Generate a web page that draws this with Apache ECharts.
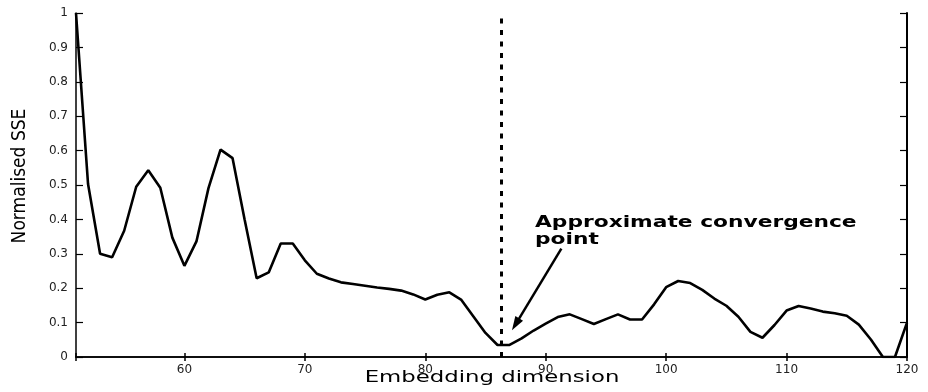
<!DOCTYPE html>
<html lang="en">
<head>
    <meta charset="UTF-8">
    <title>Normalised SSE vs embedding dimension</title>
    <style>
        html, body { margin: 0; padding: 0; background: #fff; }
    </style>
</head>
<body>
<div class="main" style="width: 928px;height:392px;"></div>
</body>
<script src="https://cdn.jsdelivr.net/npm/echarts@6.0.0/dist/echarts.min.js"></script>
<script>
    // embedding dimension 51..120
    var dims = [];
    for (var d = 51; d <= 120; d++) dims.push(d);

    // normalised SSE
    var sse = [
        1.0, 0.503, 0.300, 0.290, 0.367, 0.495, 0.543, 0.492, 0.347, 0.265,   // 51-60
        0.336, 0.491, 0.603, 0.578, 0.400, 0.229, 0.246, 0.330, 0.330, 0.281, // 61-70
        0.242, 0.228, 0.217, 0.212, 0.207, 0.202, 0.198, 0.193, 0.182, 0.167, // 71-80
        0.181, 0.188, 0.166, 0.118, 0.070, 0.035, 0.035, 0.054, 0.077, 0.097, // 81-90
        0.116, 0.124, 0.110, 0.096, 0.110, 0.124, 0.109, 0.109, 0.153, 0.203, // 91-100
        0.221, 0.215, 0.195, 0.170, 0.149, 0.117, 0.073, 0.056, 0.093, 0.135, // 101-110
        0.148, 0.141, 0.132, 0.127, 0.120, 0.094, 0.051, 0.0, 0.0, 0.100      // 111-120
    ];

    var xTicks = [60, 70, 80, 90, 100, 110, 120];
    var convergenceDim = 86.35;
    // arrow of the annotation: tail -> head, in data units
    var arrowFrom = [91.3, 0.315];
    var arrowTo = [87.5, 0.095];
    var noteText = 'Approximate convergence\npoint';

    var seriesData = dims.map(function (d, i) { return [d, sse[i]]; });

    var main = document.getElementsByClassName('main')[0];
    var myChart = echarts.init(main, null, {renderer: 'canvas'});

    var tickFont = {fontFamily: 'DejaVu Sans', fontSize: 12, color: '#222'};

    var option = {
        animation: false,
        grid: {left: 76, right: 21, top: 13, bottom: 35},
        xAxis: [{
            type: 'value',
            min: 51,
            max: 120,
            splitNumber: 7,
            axisLine: {lineStyle: {color: '#000', width: 1.5}},
            axisTick: {inside: true, length: 4, lineStyle: {color: '#000', width: 1.5}},
            axisLabel: Object.assign({
                margin: 7,
                formatter: function (v) { return xTicks.indexOf(v) >= 0 ? String(v) : ''; }
            }, tickFont),
            splitLine: {show: false}
        }, {
            type: 'value',
            position: 'top',
            min: 51,
            max: 120,
            splitNumber: 7,
            axisLine: {lineStyle: {color: '#000', width: 1.5}},
            axisTick: {inside: true, length: 4, lineStyle: {color: '#000', width: 1.5}},
            axisLabel: {show: false},
            splitLine: {show: false}
        }],
        yAxis: [{
            type: 'value',
            min: 0,
            max: 1,
            interval: 0.1,
            name: 'Normalised SSE',
            nameLocation: 'middle',
            nameGap: 46,
            nameTextStyle: {
                fontFamily: "'DejaVu Sans Condensed', sans-serif",
                fontSize: 19,
                color: '#000',
                padding: [0, 0, 0, 18]
            },
            axisLine: {lineStyle: {color: '#000', width: 1.5}},
            axisTick: {inside: true, length: 7, lineStyle: {color: '#000', width: 1.2}},
            axisLabel: Object.assign({margin: 8}, tickFont),
            splitLine: {show: false}
        }, {
            type: 'value',
            position: 'right',
            min: 0,
            max: 1,
            interval: 0.1,
            axisLine: {lineStyle: {color: '#000', width: 2}},
            axisTick: {inside: true, length: 7, lineStyle: {color: '#000', width: 1.2}},
            axisLabel: {show: false},
            splitLine: {show: false}
        }],
        series: [{
            type: 'line',
            data: seriesData,
            showSymbol: false,
            lineStyle: {color: '#000', width: 2.6},
            silent: true,
            markLine: {
                silent: true,
                symbol: 'none',
                label: {show: false},
                lineStyle: {color: '#000', width: 3, type: [5, 6.5]},
                data: [
                    {xAxis: convergenceDim},
                    // annotation arrow
                    [
                        {coord: arrowFrom, symbol: 'none',
                            lineStyle: {type: 'solid', width: 2.5, color: '#000'}},
                        {coord: arrowTo, symbol: 'triangle', symbolSize: [9, 14],
                            lineStyle: {type: 'solid', width: 2.5, color: '#000'}}
                    ]
                ]
            }
        }],
        graphic: [{
            type: 'text',
            x: 535,
            y: 215,
            scaleX: 1.45,
            style: {
                text: noteText,
                fontFamily: 'DejaVu Sans',
                fontWeight: 'bold',
                fontSize: 15,
                lineHeight: 17,
                fill: '#000',
                align: 'left',
                verticalAlign: 'top'
            }
        }, {
            type: 'text',
            x: 492,
            y: 371,
            scaleX: 1.52,
            style: {
                text: 'Embedding dimension',
                fontFamily: 'DejaVu Sans',
                fontSize: 15,
                fill: '#000',
                align: 'center',
                verticalAlign: 'top'
            }
        }]
    };

    myChart.setOption(option);
</script>
</html>
